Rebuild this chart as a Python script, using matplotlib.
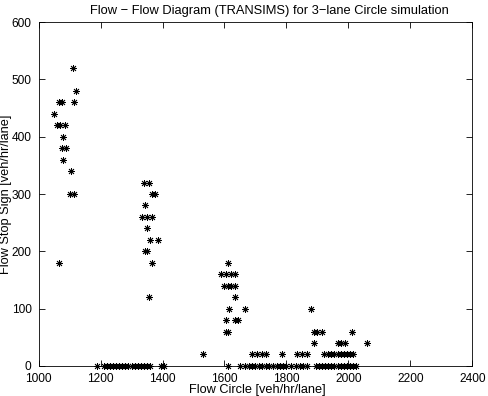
import matplotlib.pyplot as plt

plt.rcParams['font.family'] = ['Liberation Sans', 'DejaVu Sans']

# points: flow circle (x) vs flow stop sign (y)
circle_high = [1110, 1120, 1065, 1075, 1115, 1050, 1060, 1070, 1085, 1080,
               1075, 1090, 1080, 1105, 1100, 1115, 1065]
stop_high = [520, 480, 460, 460, 460, 440, 420, 420, 420, 400,
             380, 380, 360, 340, 300, 300, 180]

circle_mid = [1340, 1355, 1365, 1375, 1345, 1335, 1350, 1365, 1350, 1360,
              1385, 1345, 1350, 1365, 1355]
stop_mid = [320, 320, 300, 300, 280, 260, 260, 260, 240, 220,
            220, 200, 200, 180, 120]

circle_low = [1610, 1590, 1605, 1620, 1635, 1600, 1610, 1620, 1635, 1635,
              1615, 1665, 1605, 1635, 1645, 1605, 1612, 1530]
stop_low = [180, 160, 160, 160, 160, 140, 140, 140, 140, 120,
            100, 100, 80, 80, 80, 60, 60, 20]

circle_tail = [1880, 1890, 1900, 1915, 2010, 1890, 1965, 1975, 1990, 2060,
               1690, 1705, 1720, 1735, 1785, 1835, 1850, 1865,
               1920, 1935, 1945, 1955, 1965, 1975, 1985, 1995, 2005, 2015]
stop_tail = [100, 60, 60, 60, 60, 40, 40, 40, 40, 40,
             20, 20, 20, 20, 20, 20, 20, 20,
             20, 20, 20, 20, 20, 20, 20, 20, 20, 20]

circle_zero = [1190, 1210, 1220, 1230, 1240, 1250, 1260, 1270, 1280, 1290,
               1300, 1310, 1320, 1330, 1340, 1350, 1360, 1395, 1405,
               1610, 1650, 1665, 1680, 1690, 1700, 1710, 1720, 1735, 1745,
               1755, 1770, 1780, 1790, 1800, 1815, 1830, 1845, 1855, 1865,
               1895, 1905, 1915, 1925, 1935, 1945, 1955, 1965, 1975, 1985,
               1995, 2005, 2015, 2025]
stop_zero = [0] * len(circle_zero)

x = circle_high + circle_mid + circle_low + circle_tail + circle_zero
y = stop_high + stop_mid + stop_low + stop_tail + stop_zero

fig = plt.figure(figsize=(4.88, 3.96), dpi=100)
ax = fig.add_axes([0.079, 0.076, 0.889, 0.868])

ax.plot(x, y, linestyle='none', marker=(8, 2, 0), markersize=5,
        markeredgewidth=0.6, color='black', clip_on=False)

ax.set_xlim(1000, 2400)
ax.set_ylim(0, 600)
ax.set_xticks(range(1000, 2401, 200))
ax.set_yticks(range(0, 601, 100))
ax.tick_params(direction='in', top=True, right=True, length=4,
               labelsize=8.6, width=0.6)
ax.tick_params(axis='x', pad=5)
ax.tick_params(axis='y', pad=5)
for s in ax.spines.values():
    s.set_linewidth(0.6)

ax.set_title('Flow \u2212 Flow Diagram (TRANSIMS) for 3\u2212lane Circle simulation',
             fontsize=9.3, pad=6, x=0.531)
ax.set_xlabel('Flow Circle [veh/hr/lane]', fontsize=9.2)
ax.xaxis.set_label_coords(0.505, -0.071)
ax.xaxis.label.set_va('center')
ax.set_ylabel('Flow Stop Sign [veh/hr/lane]', fontsize=9.2)
ax.yaxis.set_label_coords(-0.075, 0.5)
ax.yaxis.label.set_va('center')
ax.yaxis.label.set_ha('center')

fig.savefig('out.png', dpi=100)
